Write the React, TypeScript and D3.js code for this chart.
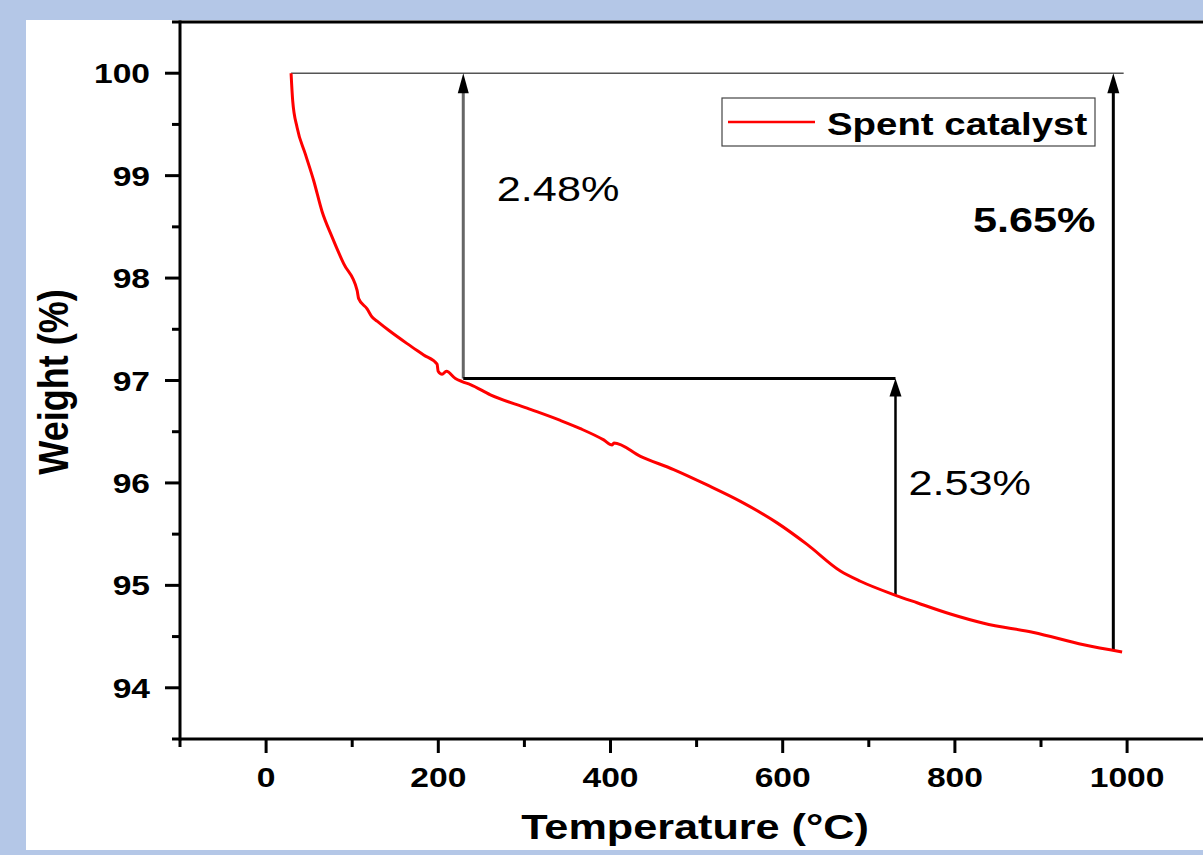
import React from "react";
import * as d3 from "d3";

const temperature = [29, 30.9, 36, 45.6, 55.3, 65, 76.7, 90.1, 105.7, 107.5, 117.3, 123.1, 128.9, 142.4, 163.8, 183, 198.6, 199.8, 204.4, 209.4, 219.9, 227.6, 237.3, 260.5, 303.1, 341.8, 365, 392.1, 401.9, 404, 434.8, 473.4, 512.2, 550.9, 593.5, 628.3, 667, 690.2, 728.9, 756.1, 794.8, 833.4, 891.5, 949.6, 994.2];
const weight = [100, 99.73, 99.47, 99.21, 98.95, 98.65, 98.4, 98.14, 97.88, 97.8, 97.7, 97.62, 97.58, 97.49, 97.36, 97.25, 97.16, 97.09, 97.06, 97.09, 97.02, 96.99, 96.96, 96.86, 96.73, 96.61, 96.53, 96.42, 96.37, 96.39, 96.26, 96.13, 95.98, 95.82, 95.61, 95.4, 95.14, 95.04, 94.91, 94.83, 94.72, 94.63, 94.54, 94.42, 94.35];

const xMajorTicks = [0, 200, 400, 600, 800, 1000];
const xMinorTicks = [-100, 100, 300, 500, 700, 900, 1100];
const yMajorTicks = [94, 95, 96, 97, 98, 99, 100];
const yMinorTicks = [93.5, 94.5, 95.5, 96.5, 97.5, 98.5, 99.5, 100.5];

const seriesName = "Spent catalyst";
const xTitle = "Temperature (\u00B0C)";
const yTitle = "Weight (%)";

// annotation values: [temperature, weight]
const topLine = { t0: 29, t1: 996, w: 100 };
const stepLine = { t0: 229, t1: 731, w: 97.02 };
const arrow1 = { t: 229, w0: 97.02, w1: 100 };
const arrow2 = { t: 731, w0: 94.9, w1: 97.02 };
const arrow3 = { t: 984, w0: 94.36, w1: 100 };
const labels = [
  { text: "2.48%", t: 268, w: 98.75, bold: false },
  { text: "2.53%", t: 746, w: 95.88, bold: false },
  { text: "5.65%", t: 821, w: 98.45, bold: true },
];

const FONT = "Arial, 'Liberation Sans', sans-serif";
const SX = 1.2;

export default function App() {
  const W = 1203;
  const H = 855;
  const x = d3.scaleLinear().domain([-100, 1100]).range([180, 180 + 1200 * 0.861]);
  const y = d3.scaleLinear().domain([93.5, 100.5]).range([739, 22]);
  const pts = temperature.map((t, i) => [t, weight[i]] as [number, number]);
  const line = d3
    .line<[number, number]>()
    .x((d) => x(d[0]))
    .y((d) => y(d[1]))
    .curve(d3.curveMonotoneX);
  const xLeft = x(-100);
  const yBottom = y(93.5);
  const yTop = y(100.5);

  const arrowHead = (px: number, py: number, w: number, h: number) =>
    `M${px},${py} L${px - w / 2},${py + h} L${px + w / 2},${py + h} Z`;

  return (
    <svg
      width={W}
      height={H}
      style={{ position: "absolute", left: 0, top: 0, display: "block" }}
      fontFamily={FONT}
    >
      <rect x={0} y={0} width={W} height={H} fill="#b4c7e7" />
      <rect x={26} y={20} width={W - 26} height={830} fill="#ffffff" />

      {/* axes */}
      <line x1={xLeft} x2={W} y1={yBottom} y2={yBottom} stroke="#000" strokeWidth={3} />
      <line x1={xLeft} x2={xLeft} y1={yTop - 1.5} y2={yBottom + 1.5} stroke="#000" strokeWidth={3} />
      <line x1={xLeft} x2={W} y1={yTop} y2={yTop} stroke="#000" strokeWidth={3} />

      {xMajorTicks.map((t) => (
        <g key={"xM" + t}>
          <line x1={x(t)} x2={x(t)} y1={yBottom} y2={yBottom + 14} stroke="#000" strokeWidth={3} />
          <text
            transform={`translate(${x(t)},787) scale(${SX},1)`}
            textAnchor="middle"
            fontSize={28}
            fontWeight="bold"
          >
            {t}
          </text>
        </g>
      ))}
      {xMinorTicks.map((t) => (
        <line key={"xm" + t} x1={x(t)} x2={x(t)} y1={yBottom} y2={yBottom + 8} stroke="#000" strokeWidth={3} />
      ))}
      {yMajorTicks.map((v) => (
        <g key={"yM" + v}>
          <line x1={xLeft - 15} x2={xLeft} y1={y(v)} y2={y(v)} stroke="#000" strokeWidth={3} />
          <text
            transform={`translate(150,${y(v) + 10}) scale(${SX},1)`}
            textAnchor="end"
            fontSize={28}
            fontWeight="bold"
          >
            {v}
          </text>
        </g>
      ))}
      {yMinorTicks.map((v) => (
        <line key={"ym" + v} x1={xLeft - 8} x2={xLeft} y1={y(v)} y2={y(v)} stroke="#000" strokeWidth={3} />
      ))}

      {/* titles */}
      <text
        transform={`translate(695,839) scale(${SX},1)`}
        textAnchor="middle"
        fontSize={36}
        fontWeight="bold"
      >
        {xTitle}
      </text>
      <text
        transform={`translate(68,382) scale(${SX},1) rotate(-90)`}
        textAnchor="middle"
        fontSize={36}
        fontWeight="bold"
      >
        {yTitle}
      </text>

      {/* annotations */}
      <line
        x1={x(topLine.t0)}
        x2={x(topLine.t1)}
        y1={y(topLine.w)}
        y2={y(topLine.w)}
        stroke="#555"
        strokeWidth={1.5}
      />
      <line
        x1={x(arrow1.t)}
        x2={x(arrow1.t)}
        y1={y(arrow1.w0)}
        y2={y(arrow1.w1) + 18}
        stroke="#666"
        strokeWidth={3}
      />
      <path d={arrowHead(x(arrow1.t), y(arrow1.w1), 11, 20)} fill="#000" />
      <line
        x1={x(stepLine.t0)}
        x2={x(stepLine.t1)}
        y1={y(stepLine.w)}
        y2={y(stepLine.w)}
        stroke="#000"
        strokeWidth={3}
      />
      <line
        x1={x(arrow2.t)}
        x2={x(arrow2.t)}
        y1={y(arrow2.w0)}
        y2={y(arrow2.w1) + 16}
        stroke="#000"
        strokeWidth={2.5}
      />
      <path d={arrowHead(x(arrow2.t), y(arrow2.w1), 12, 18)} fill="#000" />
      <line
        x1={x(arrow3.t)}
        x2={x(arrow3.t)}
        y1={y(arrow3.w0)}
        y2={y(arrow3.w1) + 18}
        stroke="#000"
        strokeWidth={3}
      />
      <path d={arrowHead(x(arrow3.t), y(arrow3.w1), 12, 20)} fill="#000" />

      {labels.map((l) => (
        <text
          key={l.text}
          transform={`translate(${x(l.t)},${y(l.w)}) scale(${SX},1)`}
          fontSize={36}
          fontWeight={l.bold ? "bold" : "normal"}
        >
          {l.text}
        </text>
      ))}

      {/* curve */}
      <path d={line(pts) || ""} fill="none" stroke="#ff0000" strokeWidth={3} strokeLinejoin="round" />

      {/* legend */}
      <rect x={722} y={98} width={373} height={48} fill="#fff" stroke="#444" strokeWidth={1.2} />
      <line x1={728} x2={815} y1={122} y2={122} stroke="#ff0000" strokeWidth={2.5} />
      <text transform={`translate(827,135) scale(${SX},1)`} fontSize={32} fontWeight="bold">
        {seriesName}
      </text>
    </svg>
  );
}
